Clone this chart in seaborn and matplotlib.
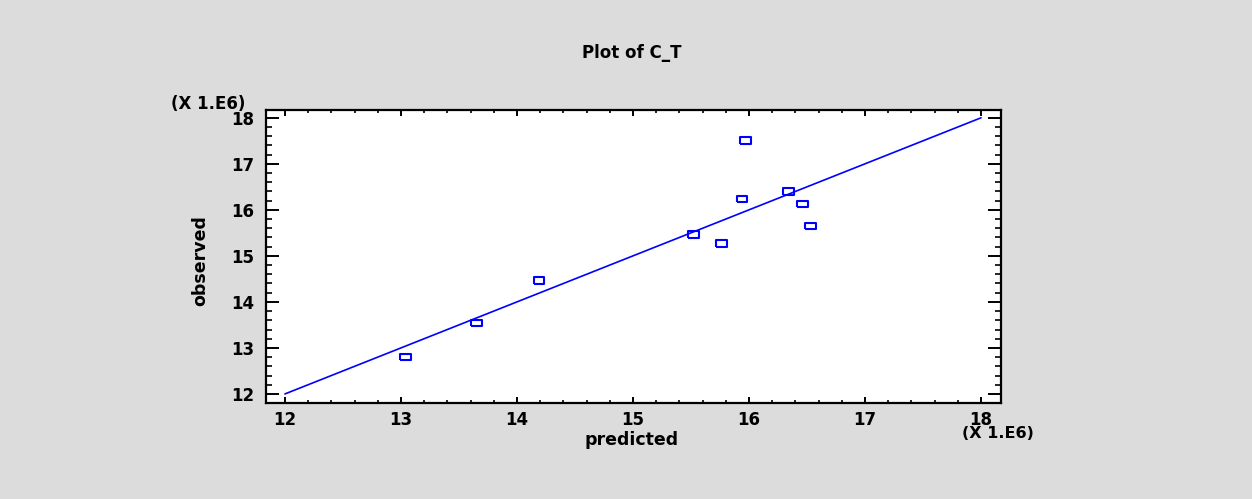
import matplotlib
matplotlib.use("Agg")
import matplotlib.pyplot as plt
import seaborn as sns
import numpy as np
import pandas as pd
from matplotlib.ticker import MultipleLocator

# data (units of 1E6)
predicted = [13.04, 13.65, 14.19, 15.52, 15.76, 15.94, 15.97, 16.34, 16.46, 16.53]
observed = [12.80, 13.54, 14.46, 15.46, 15.27, 16.24, 17.51, 16.40, 16.13, 15.65]
line_x = [12, 18]
line_y = [12, 18]
tick_vals = [12, 13, 14, 15, 16, 17, 18]
tick_labels = ["12", "13", "14", "15", "16", "17", "18"]
title = "Plot of C_T"
xlabel = "predicted"
ylabel = "observed"
scale_label = "(X 1.E6)"

sns.set_style("ticks")
plt.rcParams['font.family'] = ['DejaVu Sans']
plt.rcParams['text.color'] = 'black'
plt.rcParams['xtick.color'] = 'black'
plt.rcParams['ytick.color'] = 'black'
plt.rcParams['xtick.labelcolor'] = 'black'
plt.rcParams['ytick.labelcolor'] = 'black'

bg = "#DCDCDC"
fig = plt.figure(figsize=(12.52, 4.99), dpi=100, facecolor=bg)
ax = fig.add_axes([0.2122, 0.193, 0.5871, 0.5866])
ax.set_facecolor("white")

df = pd.DataFrame({"predicted": predicted, "observed": observed})
sns.lineplot(x=line_x, y=line_y, color="#0000FF", linewidth=1.2, ax=ax)
rect = [(-1, -0.6), (1, -0.6), (1, 0.6), (-1, 0.6), (-1, -0.6)]
sns.scatterplot(data=df, x="predicted", y="observed", marker=rect, s=62,
                facecolor="none", edgecolor="#0000FF", linewidth=1.5, ax=ax, zorder=3)

ax.set_xlim(11.834, 18.17)
ax.set_ylim(11.81, 18.17)
ax.set_xticks(tick_vals)
ax.set_xticklabels(tick_labels)
ax.set_yticks(tick_vals)
ax.set_yticklabels(tick_labels)
ax.xaxis.set_minor_locator(MultipleLocator(0.2))
ax.yaxis.set_minor_locator(MultipleLocator(0.2))

for s in ax.spines.values():
    s.set_visible(True)
    s.set_linewidth(1.6)
    s.set_color("black")

ax.tick_params(axis="x", which="major", direction="in", length=4.2, width=1.4,
               top=True, bottom=True, labelsize=12, pad=6, colors="black")
ax.tick_params(axis="x", which="minor", direction="in", length=2.2, width=1.2,
               top=True, bottom=True, colors="black")
ax.tick_params(axis="y", which="major", direction="in", length=9.5, width=1.4,
               left=True, right=True, labelsize=12, pad=8, colors="black")
ax.tick_params(axis="y", which="minor", direction="in", length=4.5, width=1.2,
               left=True, right=True, colors="black")
for lab in ax.get_xticklabels() + ax.get_yticklabels():
    lab.set_fontweight("bold")

ax.set_xlabel("")
ax.set_ylabel("")
fig.text(632 / 1252, 1 - 440 / 499, xlabel, ha="center", va="center",
         fontsize=12.5, fontweight="bold", color="black")
fig.text(200 / 1252, 1 - 261 / 499, ylabel, ha="center", va="center",
         fontsize=12.5, fontweight="bold", rotation=90, color="black")
fig.text(632 / 1252, 1 - 53 / 499, title, ha="center", va="center",
         fontsize=12, fontweight="bold", color="black")
fig.text(208 / 1252, 1 - 104 / 499, scale_label, ha="center", va="center",
         fontsize=12, fontweight="bold", color="black")
fig.text(998 / 1252, 1 - 434 / 499, scale_label, ha="center", va="center",
         fontsize=11.5, fontweight="bold", color="black")

fig.savefig("out.png", dpi=100, facecolor=bg)
